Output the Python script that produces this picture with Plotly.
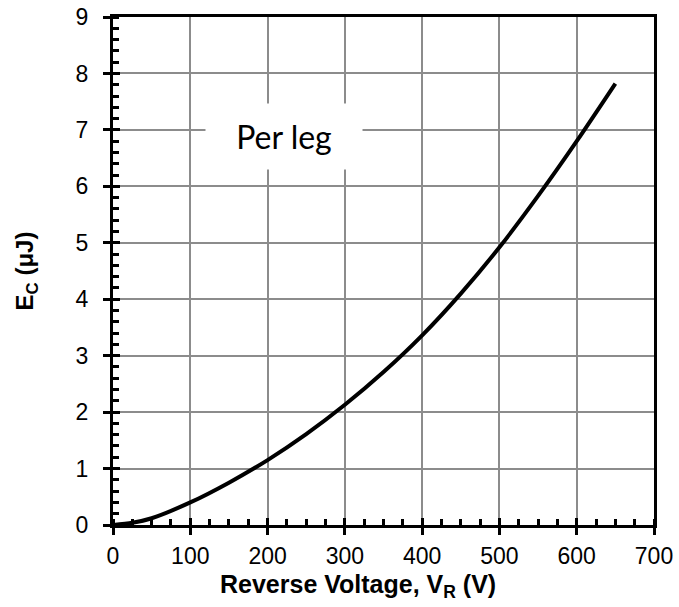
import plotly.graph_objects as go

voltage = [0, 25, 50, 100, 150, 200, 250, 300, 350, 400, 450, 500, 550, 600, 650]
energy = [0.0, 0.04, 0.12, 0.40, 0.75, 1.15, 1.61, 2.13, 2.71, 3.36, 4.10, 4.92, 5.83, 6.80, 7.82]
x_ticks = [0, 100, 200, 300, 400, 500, 600, 700]
y_ticks = [0, 1, 2, 3, 4, 5, 6, 7, 8, 9]
label_text = "Per leg"
x_title = "<b>Reverse Voltage, V<sub>R</sub> (V)</b>"
y_title = "<b>E<sub>C</sub> (μJ)</b>"

fig = go.Figure()
fig.add_trace(go.Scatter(x=voltage, y=energy, mode="lines",
                         line=dict(color="black", width=4, shape="spline", smoothing=0.8),
                         showlegend=False, hoverinfo="skip"))
# invisible copy to activate overlay axes (inner half of major ticks)
fig.add_trace(go.Scatter(x=voltage, y=energy, mode="lines", xaxis="x2", yaxis="y2",
                         line=dict(color="rgba(0,0,0,0)", width=1),
                         showlegend=False, hoverinfo="skip"))

tickfont = dict(family="Liberation Sans, Arial", size=23, color="black")
titlefont = dict(family="Liberation Sans, Arial", size=24, color="black")
common = dict(showline=True, linecolor="black", linewidth=3, mirror=True,
              showgrid=True, gridcolor="#8c8c8c", gridwidth=1.5, zeroline=False,
              ticks="outside", ticklen=7, tickwidth=3, tickcolor="black",
              tickfont=tickfont, automargin=False)

fig.update_layout(
    width=679, height=607,
    margin=dict(l=113, r=25, t=17, b=82),
    paper_bgcolor="white", plot_bgcolor="white",
    xaxis=dict(range=[0, 700], tickvals=x_ticks, ticktext=[str(v) for v in x_ticks],
               minor=dict(dtick=25, tick0=0, ticks="inside", ticklen=6, tickwidth=2.5,
                          tickcolor="black", showgrid=False),
               ticklabelstandoff=1,
               **common),
    yaxis=dict(range=[0, 9], tickvals=y_ticks, ticktext=[str(v) for v in y_ticks],
               minor=dict(dtick=0.2, tick0=0, ticks="inside", ticklen=6, tickwidth=2.5,
                          tickcolor="black", showgrid=False),
               ticklabelstandoff=10,
               title=dict(text=y_title, font=titlefont, standoff=36),
               **common),
    xaxis2=dict(overlaying="x", anchor="y2", range=[0, 700], tickvals=x_ticks,
                showticklabels=False, showgrid=False, zeroline=False, showline=False,
                ticks="inside", ticklen=7, tickwidth=3, tickcolor="black"),
    yaxis2=dict(overlaying="y", anchor="x2", range=[0, 9], tickvals=y_ticks,
                showticklabels=False, showgrid=False, zeroline=False, showline=False,
                ticks="inside", ticklen=7, tickwidth=3, tickcolor="black"),
)

fig.add_annotation(x=0.452, y=-0.121, xref="paper", yref="paper", text=x_title,
                   showarrow=False, xanchor="center", yanchor="middle",
                   font=dict(family="Liberation Sans, Arial", size=25, color="black"))

fig.add_annotation(x=221, y=6.89, xref="x", yref="y", text=label_text, showarrow=False,
                   font=dict(family="Lato, Open Sans", size=32, color="black"),
                   bgcolor="white", width=154, height=63, align="center", valign="middle")

fig.write_html("out.html", config={"displayModeBar": False},
               post_script="document.body.style.margin='0';")
